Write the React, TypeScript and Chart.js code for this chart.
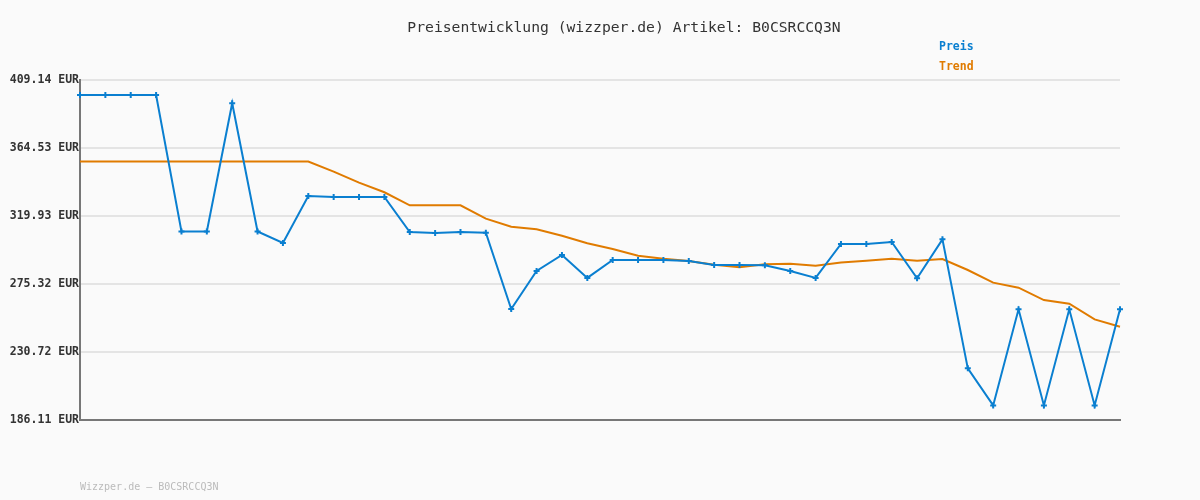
import React, { useEffect, useRef } from "react";
import { Chart, registerables } from "chart.js";

Chart.register(...registerables);

const TITLE = "Preisentwicklung (wizzper.de) Artikel: B0CSRCCQ3N";
const FOOTER = "Wizzper.de – B0CSRCCQ3N";
const SERIES_NAMES = ["Preis", "Trend"];
const yTicks = [186.11, 230.72, 275.32, 319.93, 364.53, 409.14];

const preis = [
  399.3, 399.3, 399.3, 399.3, 309.8, 309.8, 393.9, 309.8, 302.2, 333.0,
  332.4, 332.4, 332.4, 309.4, 308.8, 309.4, 309.0, 258.9, 283.9, 294.4,
  279.3, 291.1, 291.1, 291.1, 290.4, 287.8, 287.8, 287.6, 283.9, 279.3,
  301.6, 301.6, 302.9, 279.1, 304.6, 220.0, 195.7, 258.7, 195.7, 258.7,
  195.7, 258.7,
];

const trend = [
  355.6, 355.6, 355.6, 355.6, 355.6, 355.6, 355.6, 355.6, 355.6, 355.6,
  349.0, 341.8, 335.5, 326.9, 326.9, 326.9, 318.2, 312.9, 311.2, 307.0,
  302.0, 298.3, 293.9, 291.9, 290.4, 288.0, 286.3, 288.2, 288.6, 287.3,
  289.5, 290.6, 291.9, 290.6, 291.7, 284.5, 276.2, 272.9, 264.8, 262.4,
  252.1, 247.3,
];

const labels = preis.map((_, i) => String(i + 1));

const BLUE = "#0a7fd0";
const ORANGE = "#e07b00";
const MONO = "'DejaVu Sans Mono', 'Liberation Mono', monospace";

const textPlugin = {
  id: "textPlugin",
  afterDraw(chart: any) {
    const ctx = chart.ctx;
    ctx.save();
    ctx.textBaseline = "middle";
    ctx.textAlign = "center";
    ctx.fillStyle = "#333333";
    ctx.font = `14.7px ${MONO}`;
    ctx.fillText(TITLE, 624, 28);
    ctx.textAlign = "left";
    ctx.font = `bold 11.5px ${MONO}`;
    ctx.fillStyle = BLUE;
    ctx.fillText(SERIES_NAMES[0], 939, 47);
    ctx.fillStyle = ORANGE;
    ctx.fillText(SERIES_NAMES[1], 939, 67);
    ctx.font = `10px ${MONO}`;
    ctx.fillStyle = "#bbbbbb";
    ctx.fillText(FOOTER, 80, 487);
    ctx.restore();
  },
};

export default function App() {
  const ref = useRef<HTMLCanvasElement | null>(null);

  useEffect(() => {
    if (!ref.current) return;
    const chart = new Chart(ref.current, {
      type: "line",
      data: {
        labels,
        datasets: [
          {
            label: SERIES_NAMES[1],
            data: trend,
            borderColor: ORANGE,
            borderWidth: 2,
            pointRadius: 0,
            tension: 0,
            order: 2,
          },
          {
            label: SERIES_NAMES[0],
            data: preis,
            borderColor: BLUE,
            backgroundColor: BLUE,
            borderWidth: 2,
            pointStyle: "cross",
            pointRadius: 3,
            pointBorderWidth: 2,
            pointBorderColor: BLUE,
            tension: 0,
            order: 1,
          },
        ],
      },
      options: {
        animation: false,
        responsive: false,
        maintainAspectRatio: false,
        layout: { padding: { top: 80, right: 80, left: 0, bottom: 0 } },
        plugins: {
          legend: { display: false },
          title: { display: false },
          tooltip: { enabled: false },
        },
        scales: {
          x: {
            type: "category",
            offset: false,
            grid: { display: false, drawTicks: false },
            ticks: { display: false },
            border: { display: true, color: "#777777", width: 2 },
            afterFit(scale: any) {
              scale.height = 80;
            },
          },
          y: {
            min: yTicks[0],
            max: yTicks[yTicks.length - 1],
            afterBuildTicks(scale: any) {
              scale.ticks = yTicks.map((v) => ({ value: v }));
            },
            afterFit(scale: any) {
              scale.width = 80;
            },
            grid: {
              color: "#e4e4e4",
              lineWidth: 2,
              drawTicks: false,
            },
            border: { display: true, color: "#777777", width: 2 },
            ticks: {
              padding: 1,
              color: "#333333",
              font: { family: MONO, size: 11.5, weight: "bold" },
              callback: (v: any) => Number(v).toFixed(2) + " EUR",
            },
          },
        },
      },
      plugins: [textPlugin],
    } as any);
    return () => chart.destroy();
  }, []);

  return (
    <div
      style={{
        position: "fixed",
        left: 0,
        top: 0,
        width: 1200,
        height: 500,
        background: "#fafafa",
      }}
    >
      <canvas ref={ref} width={1200} height={500} style={{ display: "block" }} />
    </div>
  );
}
